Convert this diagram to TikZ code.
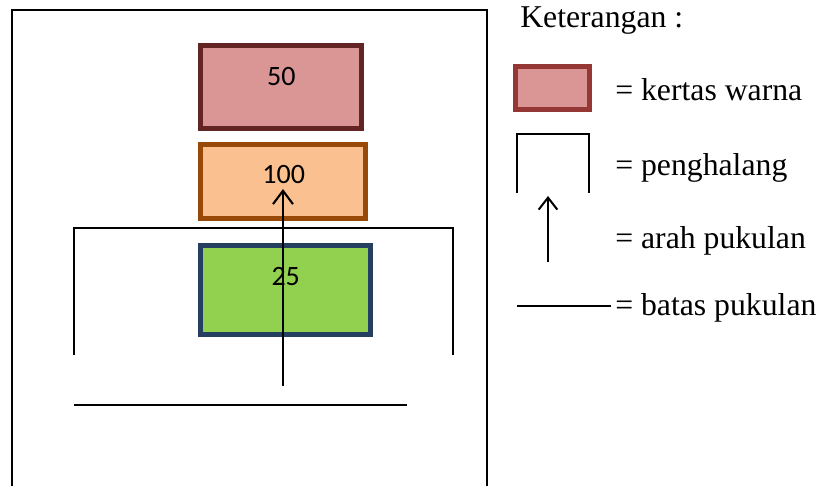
\documentclass[tikz,border=0pt]{standalone}
\usepackage{fontspec}
\setmainfont{Liberation Serif}
\newfontfamily\numfont{Carlito}
\usetikzlibrary{arrows.meta}
\definecolor{rbord}{HTML}{632523}
\definecolor{rfill}{HTML}{D99694}
\definecolor{obord}{HTML}{984807}
\definecolor{ofill}{HTML}{FAC090}
\definecolor{gbord}{HTML}{243F60}
\definecolor{gfill}{HTML}{92D050}
\definecolor{lbord}{HTML}{953735}
\tikzset{
  paper/.style={draw, line width=3.75pt, rectangle, inner sep=0pt, anchor=north west},
  num/.style={font=\numfont\fontsize{21}{25}\selectfont, inner sep=0pt},
  legtext/.style={font=\fontsize{23.8}{28}\selectfont, inner sep=0pt, anchor=base west},
  thin/.style={line width=1.1pt},
  hit/.style={line width=1.6pt, -{Straight Barb[length=10pt, width=15pt, line width=1.6pt]}},
  hitsmall/.style={line width=1.5pt, -{Straight Barb[length=9pt, width=14pt, line width=1.5pt]}},
  hitline/.style={line width=1.5pt},
}
\begin{document}
\begin{tikzpicture}[x=0.75pt, y=-0.75pt]
\useasboundingbox (0,0) rectangle (822,486);
% outer frame
\coordinate (f1) at (12,487);
\coordinate (f2) at (12,10);
\coordinate (f3) at (487,10);
\coordinate (f4) at (487,487);
\draw[thin] (f1) -- (f2) -- (f3) -- (f4);
% papers
\node[paper, color=rbord, fill=rfill, minimum width=161*0.75pt, minimum height=83*0.75pt] (b50) at (198,43) {};
\node[paper, color=obord, fill=ofill, minimum width=165*0.75pt, minimum height=74*0.75pt] (b100) at (198,142) {};
\node[paper, color=gbord, fill=gfill, minimum width=170*0.75pt, minimum height=89*0.75pt] (b25) at (198,243) {};
\node[num] (t50) at (281.3,77) {50};
\node[num] (t100) at (283.7,175) {100};
\node[num] (t25) at (285.7,277) {25};
% barrier
\coordinate (p1) at (74,355);
\coordinate (p2) at (74,228);
\coordinate (p3) at (453,228);
\coordinate (p4) at (453,355);
\draw[thin] (p1) -- (p2) -- (p3) -- (p4);
% hit line
\coordinate (h1) at (74,405);
\coordinate (h2) at (407,405);
\draw[hitline] (h1) -- (h2);
% arrow
\coordinate (a1) at (283,386);
\coordinate (a2) at (283,189);
\draw[hit] (a1) -- (a2);
% legend
\node[legtext] (ket) at (520,27) {Keterangan :};
\node[paper, color=lbord, fill=rfill, minimum width=74*0.75pt, minimum height=43*0.75pt] (lrect) at (513,64) {};
\node[legtext] (l1) at (615,100) {= kertas warna};
\coordinate (q1) at (517,193);
\coordinate (q2) at (517,134);
\coordinate (q3) at (589,134);
\coordinate (q4) at (589,193);
\draw[thin] (q1) -- (q2) -- (q3) -- (q4);
\node[legtext] (l2) at (615,175) {= penghalang};
\coordinate (r1) at (548,262);
\coordinate (r2) at (548,196);
\draw[hitsmall] (r1) -- (r2);
\node[legtext] (l3) at (615,248) {= arah pukulan};
\coordinate (s1) at (517,306);
\coordinate (s2) at (611,306);
\draw[thin] (s1) -- (s2);
\node[legtext] (l4) at (615,315) {= batas pukulan};
\end{tikzpicture}
\end{document}
